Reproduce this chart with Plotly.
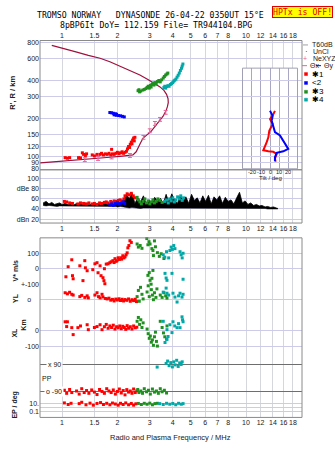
import plotly.graph_objects as go

W, H = 335, 451
SANS = "Liberation Sans, Arial, sans-serif"
MONO = "DejaVu Sans Mono, monospace"

# ---------------------------------------------------------------- data
FREQ_TICKS = [1, 1.5, 2, 3, 4, 5, 6, 7, 8, 10, 12, 14, 16, 18]
FREQ_LABELS = ["1", "1.5", "2", "3", "4", "5", "6", "7", "8", "10", "12", "14", "16", "18"]
HEIGHT_TICKS = [80, 90, 100, 120, 150, 200, 300, 400, 600, 800]
DB_TICKS = [20, 40, 60, 80, 100]
DB_LABELS = ["dBn 20", "40", "60", "dBe 80", "100"]
TILT_TICKS = [-20, -10, 0, 10, 20]

# electron density profile (plasma frequency, true height)
PROFILE_F = [0.88, 1.03, 1.19, 1.39, 1.61, 1.82, 2.07, 2.34, 2.65, 2.93,
             3.20, 3.41, 3.58, 3.70, 3.77, 3.78, 3.74, 3.68, 3.56, 3.41,
             3.22, 3.05, 2.86, 2.76, 2.67, 2.61, 2.53, 2.43, 2.28, 2.07,
             1.82, 1.61, 1.42, 1.25, 1.11, 0.98, 0.86, 0.76]
PROFILE_H = [758, 718, 674, 633, 600, 563, 519, 479, 442, 407,
             379, 356, 334, 311, 287, 267, 248, 231, 211, 193,
             175, 158, 147, 140, 128, 118, 109, 103, 101.4, 100.2,
             98.7, 97.5, 95.7, 94.4, 93.2, 91.9, 90.4, 89.1]

# NeXYZ inversion points
NE_F = [1.33, 1.57, 1.86, 2.34, 2.77, 3.00, 3.20, 3.41, 3.66]
NE_H = [94.5, 96.6, 99.3, 102, 142, 160, 183, 197, 224]

# echo traces: range vs frequency
ECHO1_RH = [(1.04, 98), (1.07, 97), (1.10, 98), (1.23, 98), (1.26, 97.5),
            (1.29, 107), (1.31, 104), (1.34, 102), (1.36, 105), (1.46, 103),
            (1.50, 101), (1.55, 104), (1.61, 104), (1.64, 106), (1.68, 103),
            (1.72, 105), (1.76, 104), (1.80, 106), (1.84, 103), (1.88, 105),
            (1.92, 104), (1.86, 114), (1.96, 106), (2.00, 108), (2.04, 105),
            (2.08, 107), (2.12, 109), (2.16, 106), (2.20, 108), (2.24, 110),
            (2.27, 115), (2.30, 120), (2.33, 118), (2.35, 125), (2.38, 130),
            (2.40, 126), (2.42, 135), (2.45, 140), (2.47, 133), (2.49, 142)]
ECHO2_RH = [(1.82, 223), (1.86, 222), (1.90, 220), (1.95, 218), (1.98, 216),
            (1.92, 214), (1.97, 212), (2.03, 211), (2.08, 210), (2.13, 208),
            (2.18, 206)]
ECHO3_RH = [(2.59, 332), (2.62, 338), (2.64, 325), (2.68, 330), (2.75, 336),
            (2.80, 340), (2.86, 345), (2.90, 352), (2.94, 360), (2.98, 348),
            (3.02, 365), (3.05, 355), (3.08, 372), (3.12, 380), (3.16, 368),
            (3.20, 385), (3.25, 375), (3.30, 392), (3.36, 400), (3.42, 390),
            (3.48, 405), (3.55, 418), (3.60, 430), (3.66, 442), (3.72, 450),
            (3.76, 458)]
ECHO4_RH = [(3.58, 352), (3.62, 360), (3.66, 348), (3.70, 358), (3.76, 364),
            (3.82, 360), (3.88, 372), (3.94, 378), (4.00, 385), (4.05, 395),
            (4.10, 402), (4.16, 410), (4.22, 425), (4.28, 440), (4.34, 458),
            (4.40, 480), (4.46, 500), (4.50, 520), (4.54, 540)]
TRACE_TAGS = [("\u27311", 2.06, 99), ("<2", 2.17, 203), ("\u27313", 3.28, 346), ("\u27314", 4.30, 366)]

# tilt of the reflection points
TILT_X_H = [230, 216, 198, 181, 160, 142, 130, 115, 112, 110, 109, 105, 96, 91]
TILT_X = [5.4, 3.6, 0.0, 2.9, -0.8, -1.8, -3.6, -6.5, -7.3, -1.8, 3.6, 7.3, 5.4, 6.2]
TILT_Y_H = [230, 210, 192, 170, 156, 147, 126, 115, 110, 107, 99, 92]
TILT_Y = [0.0, 2.9, 1.8, 3.6, 5.4, 10.9, 16.3, 19.9, 14.5, 7.3, 5.4, 5.4]

# receiver noise / amplitude envelope
NOISE_F = [0.79, 0.82, 0.85, 0.88, 0.91, 0.94, 0.97, 1.00, 1.04, 1.08,
           1.12, 1.16, 1.20, 1.25, 1.30, 1.35, 1.40, 1.45, 1.50, 1.56,
           1.62, 1.68, 1.74, 1.80, 1.87, 1.94, 2.01, 2.08, 2.16, 2.24,
           2.32, 2.40, 2.49, 2.58, 2.67, 2.77, 2.87, 2.97, 3.08, 3.19,
           3.31, 3.43, 3.55, 3.68, 3.81, 3.95, 4.09, 4.24, 4.39, 4.55,
           4.71, 4.88, 5.06, 5.24, 5.43, 5.62, 5.82, 6.03, 6.25, 6.47,
           6.70, 6.94, 7.19, 7.45, 7.72, 8.00, 8.29, 8.59, 8.90, 9.22,
           9.55, 9.89, 10.25, 10.6, 11.0, 11.4, 11.8, 12.2, 12.7, 13.1,
           13.6, 14.1, 14.6, 14.9]
NOISE_HI = [52, 55, 50, 53, 49, 50, 52, 49, 51, 49,
            50, 48, 51, 49, 49, 52, 48, 50, 49, 51,
            48, 52, 50, 49, 53, 51, 55, 52, 57, 69,
            60, 72, 51, 62, 54, 66, 50, 58, 52, 63,
            55, 61, 50, 69, 53, 70, 58, 51, 66, 56,
            64, 51, 69, 57, 62, 52, 66, 55, 67, 50,
            64, 58, 66, 51, 63, 55, 58, 50, 62, 73,
            52, 56, 49, 52, 47, 49, 46, 47, 44, 45,
            43, 44, 42, 41]
NOISE_LO = [47, 46, 47, 46, 46, 45, 46, 46, 45, 46,
            46, 45, 46, 46, 45, 46, 45, 46, 45, 46,
            45, 46, 45, 45, 46, 45, 44, 45, 44, 43,
            42, 43, 42, 42, 41, 42, 42, 41, 42, 42,
            41, 42, 42, 41, 42, 41, 42, 42, 41, 42,
            42, 41, 42, 42, 41, 42, 41, 42, 42, 41,
            42, 42, 41, 42, 42, 41, 42, 42, 41, 42,
            42, 41, 42, 41, 42, 41, 41, 41, 41, 40,
            40, 40, 40, 40]

# echo amplitudes (dB)
ECHO1_DB = [(1.03, 55), (1.06, 54), (1.10, 52), (1.14, 51), (1.22, 50), (1.26, 52),
            (1.31, 51), (1.36, 50), (1.40, 52), (1.46, 50), (1.50, 51), (1.55, 49),
            (1.60, 52), (1.64, 51), (1.70, 53), (1.74, 54), (1.78, 52), (1.84, 55),
            (1.88, 53), (1.92, 56), (1.97, 55), (2.02, 57), (2.07, 58), (2.12, 56),
            (2.17, 60), (2.20, 66), (2.26, 70), (2.32, 68), (2.38, 71), (2.44, 66),
            (2.50, 62)]
ECHO2_DB = [(1.82, 48), (1.86, 50), (1.90, 47), (1.95, 51), (2.00, 53), (2.05, 50),
            (2.10, 52), (2.15, 54), (2.19, 51)]
ECHO3_DB = [(2.56, 63), (2.60, 58), (2.65, 54), (2.70, 50), (2.76, 55), (2.82, 60),
            (2.88, 52), (2.94, 56), (3.00, 50), (3.06, 54), (3.12, 58), (3.18, 52),
            (3.25, 55), (3.32, 60), (3.40, 57), (3.50, 53)]
ECHO4_DB = [(3.62, 55), (3.70, 58), (3.78, 52), (3.85, 60), (3.92, 56), (4.00, 62),
            (4.08, 54), (4.16, 58), (4.25, 64), (4.34, 60), (4.42, 66), (4.50, 57),
            (4.58, 62)]

# Doppler velocity V* (m/s)
ECHO1_V = [(1.05, -52), (1.08, 13), (1.13, 58), (1.14, -45), (1.15, -65), (1.25, 19),
           (1.30, -77), (1.33, 52), (1.34, 6), (1.37, -13), (1.47, -6), (1.51, 32),
           (1.55, 39), (1.57, -26), (1.61, 19), (1.63, -45), (1.67, -58), (1.69, -77),
           (1.71, -97), (1.70, 0), (1.74, 30), (1.78, 32), (1.82, 39), (1.85, 45),
           (1.89, 52), (1.92, 40), (1.94, 65), (1.97, 48), (1.99, 52), (2.02, 71),
           (2.05, 60), (2.09, 71), (2.11, 62), (2.14, 84), (2.17, 70), (2.20, 77),
           (2.23, 90), (2.26, 103), (2.28, 135), (2.31, 150), (2.34, 181), (2.38, 170),
           (2.40, 200)]
ECHO3_V = [(2.56, 160), (2.60, 140), (2.66, 150), (2.72, 132), (2.89, 195), (2.93, 155),
           (2.97, 175), (3.01, 160), (3.05, 200), (3.08, 130), (3.12, 118), (3.14, 85),
           (3.18, 180), (3.22, 142), (3.30, 104), (3.38, 80), (3.46, 97), (3.58, 66),
           (2.93, -43), (3.01, -75), (3.05, -100), (3.12, -11), (3.08, -62), (2.98, -25)]
ECHO4_V = [(3.55, 90), (3.62, 75), (3.70, 110), (3.80, 70), (3.86, 118), (3.92, 140),
           (3.98, 125), (4.05, 150), (4.11, 130), (4.38, 110), (4.44, 90), (4.50, 70),
           (4.55, 100), (3.63, -30), (3.68, -60), (3.72, -75), (3.96, -30), (4.55, -68)]

# YL displacement (km)
ECHO1_YL = [(1.04, 45), (1.07, 38), (1.10, 48), (1.13, 35), (1.15, 30), (1.25, 20),
            (1.28, 28), (1.33, 15), (1.37, 25), (1.39, 12), (1.51, 30), (1.55, 45),
            (1.58, 20), (1.61, 12), (1.65, 35), (1.67, 18), (1.72, 8), (1.76, 5),
            (1.80, 10), (1.84, -3), (1.88, 2), (1.92, -8), (1.96, 4), (2.00, -2),
            (2.04, 6), (2.08, -5), (2.12, 3), (2.16, -8), (2.20, 1), (2.25, -4),
            (2.30, 5), (2.35, -10), (2.40, 0), (2.45, -6), (2.50, 3), (2.54, -12)]
ECHO3_YL = [(2.56, 20), (2.60, 60), (2.63, -10), (2.67, 80), (2.72, 35), (2.76, 5),
            (2.90, 50), (2.94, 90), (2.98, 20), (3.02, 110), (3.06, 65), (3.10, 30),
            (3.14, 0), (3.18, 45), (3.24, 15), (3.28, 70), (3.42, 30), (3.50, 15),
            (3.58, 45), (3.66, 25), (3.72, 10)]
ECHO4_YL = [(3.55, 49), (3.68, 75), (3.72, 42), (3.80, 30), (4.01, 42), (4.11, 17),
            (4.22, -15), (4.30, 25), (4.38, 42), (4.49, 17), (4.55, 35)]

# XL displacement (km)
ECHO1_XL = [(1.04, 57), (1.07, 57), (1.06, 26), (1.13, 19), (1.15, -26), (1.22, 19),
            (1.26, 30), (1.37, 38), (1.39, 6), (1.50, 20), (1.55, 26), (1.61, 38),
            (1.65, 6), (1.70, 25), (1.74, 40), (1.78, 15), (1.82, 30), (1.86, 20),
            (1.90, 35), (1.94, 10), (1.98, 25), (2.02, 18), (2.06, 30), (2.10, 12),
            (2.14, 28), (2.18, 20), (2.22, 8), (2.26, 32), (2.30, 15), (2.35, 25),
            (2.40, 10), (2.45, 30), (2.50, 18), (2.55, 22)]
ECHO3_XL = [(2.56, 60), (2.60, 85), (2.64, 40), (2.68, 70), (2.72, 20), (2.76, 50),
            (2.90, 10), (2.94, -20), (2.98, -50), (3.02, -35), (3.06, -75), (3.10, -60),
            (3.14, -95), (3.18, -40), (3.22, -10), (3.26, -70), (3.30, -100), (3.42, 60),
            (3.50, 20), (3.56, -15), (3.62, -40), (3.70, -55), (3.72, 30)]
ECHO4_XL = [(3.55, 60), (3.63, -77), (3.72, -57), (3.72, 6), (3.77, -38), (3.86, 38),
            (3.96, -13), (4.01, 57), (4.10, 30), (4.22, 19), (4.30, 45), (4.38, 19),
            (4.49, 89), (4.55, 57), (4.52, 70)]

# polarisation PP (deg)
ECHO1_PP = [(1.03, -80), (1.06, -100), (1.10, -75), (1.13, -95), (1.20, -85), (1.24, -105),
            (1.28, -70), (1.32, -95), (1.36, -82), (1.40, -100), (1.45, -78), (1.50, -92),
            (1.55, -108), (1.60, -75), (1.65, -88), (1.70, -100), (1.75, -70), (1.80, -85),
            (1.85, -95), (1.90, -78), (1.95, -105), (2.00, -88), (2.05, -72), (2.10, -98),
            (2.15, -82), (2.20, -110), (2.25, -76), (2.30, -92), (2.35, -85), (2.40, -100),
            (2.45, -72), (2.50, -95), (2.55, -84)]
ECHO3_PP = [(2.58, -75), (2.62, -95), (2.68, -85), (2.74, -100), (2.80, -70), (2.88, -90),
            (2.95, -80), (3.02, -105), (3.10, -72), (3.18, -92), (3.26, -85), (3.34, -100),
            (3.42, -70), (3.50, -90), (3.60, -80), (3.70, -98)]
ECHO4_PP = [(3.29, 71), (3.68, 95), (3.75, 110), (3.82, 80), (3.90, 100), (3.98, 72),
            (4.05, 105), (4.12, 85), (4.20, 115), (4.28, 75), (4.36, 98), (4.44, 88),
            (4.50, 105)]

# error parameter EP (deg)
ECHO1_EP = [(1.03, 15), (1.08, 6), (1.12, 12), (1.24, 10), (1.28, 22), (1.35, 5),
            (1.42, 13), (1.48, 4), (1.55, 11), (1.62, 18), (1.68, 6), (1.75, 12),
            (1.82, 5), (1.88, 14), (1.95, 8), (2.02, 4), (2.08, 12), (2.15, 6),
            (2.22, 15), (2.30, 5), (2.38, 11), (2.45, 4), (2.52, 9)]
ECHO3_EP = [(2.60, 11), (2.70, 6), (2.80, 12), (2.90, 7), (3.00, 13), (3.10, 5),
            (3.20, 10), (3.30, 12)]
ECHO4_EP = [(3.40, 10), (3.55, 6), (3.70, 12), (3.85, 7), (4.00, 11), (4.15, 5),
            (4.30, 12), (4.45, 7), (4.55, 10)]

# ---------------------------------------------------------------- styling
RED, BLUE, GREEN, CYAN = "#ff0000", "#0000ff", "#1f8f1f", "#00a8a8"
PROFILE_COLOR, NE_COLOR = "#a0103c", "#e8609a"
VGRID, HGRID = "#d6d6de", "#ccccea"
FRAME = "#8a8a8a"
TICKFONT = dict(family=SANS, size=7, color="#202020")


def px(x):
    return x / W


def py(y):
    return 1 - y / H


XDOM = [px(40), px(302)]
XRANGE = [-22 / 184, 240 / 184]

fig = go.Figure()


def unzip(pairs):
    return [p[0] for p in pairs], [p[1] for p in pairs]


def dots(pairs, color, xa, ya, size=3):
    xs, ys = unzip(pairs)
    fig.add_trace(go.Scatter(x=xs, y=ys, mode="markers", xaxis=xa, yaxis=ya,
                             marker=dict(symbol="square", size=size, color=color,
                                         line=dict(width=0)),
                             cliponaxis=False, hoverinfo="skip", showlegend=False))


# --- top panel: virtual range and true-height profile
fig.add_trace(go.Scatter(x=PROFILE_F, y=PROFILE_H, mode="lines", xaxis="x", yaxis="y",
                         line=dict(color=PROFILE_COLOR, width=1.2), hoverinfo="skip"))
fig.add_trace(go.Scatter(x=NE_F, y=NE_H, mode="markers", xaxis="x", yaxis="y",
                         marker=dict(size=1, color=NE_COLOR),
                         error_y=dict(type="percent", value=3.5, width=2, thickness=1,
                                      color=NE_COLOR), hoverinfo="skip"))
for pairs, color in [(ECHO1_RH, RED), (ECHO2_RH, BLUE), (ECHO3_RH, GREEN), (ECHO4_RH, CYAN)]:
    dots(pairs, color, "x", "y")

# --- tilt inset
fig.add_trace(go.Scatter(x=TILT_X, y=TILT_X_H, mode="lines", xaxis="x9", yaxis="y9",
                         line=dict(color=RED, width=2), hoverinfo="skip"))
fig.add_trace(go.Scatter(x=TILT_Y, y=TILT_Y_H, mode="lines", xaxis="x9", yaxis="y9",
                         line=dict(color=BLUE, width=2), hoverinfo="skip"))

# --- amplitude panel
fig.add_trace(go.Scatter(x=NOISE_F, y=NOISE_LO, mode="lines", xaxis="x2", yaxis="y2",
                         line=dict(color="black", width=0.5), hoverinfo="skip"))
fig.add_trace(go.Scatter(x=NOISE_F, y=NOISE_HI, mode="lines", xaxis="x2", yaxis="y2",
                         fill="tonexty", fillcolor="black",
                         line=dict(color="black", width=0.8), hoverinfo="skip"))
for pairs, color in [(ECHO1_DB, RED), (ECHO2_DB, BLUE), (ECHO3_DB, GREEN), (ECHO4_DB, CYAN)]:
    dots(pairs, color, "x2", "y2")

# --- velocity / position / polarisation panel
for pairs, color in [(ECHO1_V, RED), (ECHO3_V, GREEN), (ECHO4_V, CYAN)]:
    dots(pairs, color, "x3", "y4")
for pairs, color in [(ECHO1_YL, RED), (ECHO3_YL, GREEN), (ECHO4_YL, CYAN)]:
    dots(pairs, color, "x3", "y5")
for pairs, color in [(ECHO1_XL, RED), (ECHO3_XL, GREEN), (ECHO4_XL, CYAN)]:
    dots(pairs, color, "x3", "y6")
for pairs, color in [(ECHO1_PP, RED), (ECHO3_PP, GREEN), (ECHO4_PP, CYAN)]:
    dots(pairs, color, "x3", "y7")
for pairs, color in [(ECHO1_EP, RED), (ECHO3_EP, GREEN), (ECHO4_EP, CYAN)]:
    dots(pairs, color, "x3", "y8")

# ---------------------------------------------------------------- axes
xcommon = dict(type="log", range=XRANGE, domain=XDOM, tickvals=FREQ_TICKS,
               ticktext=FREQ_LABELS, tickangle=0, showgrid=True, gridcolor=VGRID,
               gridwidth=1, zeroline=False, showline=False, ticks="", tickfont=TICKFONT)


def yaxis(top, bottom, rng, **kw):
    d = dict(domain=[py(bottom), py(top)], range=rng, showgrid=True, gridcolor=HGRID,
             zeroline=False, showline=False, ticks="", tickfont=TICKFONT, anchor="x3")
    d.update(kw)
    return d


V0, YL0, XL0, STEP = 268.3, 299.7, 331.0, 0.1567

fig.update_layout(
    width=W, height=H, margin=dict(l=0, r=0, t=0, b=0), autosize=False,
    paper_bgcolor="white", plot_bgcolor="white", showlegend=False,
    font=dict(family=SANS, size=7, color="#202020"),
    xaxis=dict(xcommon, anchor="y", side="top"),
    yaxis=dict(type="log", domain=[py(168), py(37)],
               range=[2.903 - 129 / 128, 2.903 + 2 / 128], tickvals=HEIGHT_TICKS,
               showgrid=True, gridcolor=HGRID, zeroline=False, showline=False,
               ticks="", tickfont=TICKFONT, anchor="x"),
    xaxis2=dict(xcommon, anchor="y2", side="bottom"),
    yaxis2=dict(domain=[py(222), py(168)], range=[20 - 4 / 0.5125, 100 + 9 / 0.5125],
                tickvals=DB_TICKS, ticktext=DB_LABELS, showgrid=True, gridcolor=HGRID,
                zeroline=False, showline=False, ticks="", tickfont=TICKFONT, anchor="x2"),
    xaxis3=dict(xcommon, anchor="y8", side="bottom"),
    yaxis4=yaxis(237, 284, [(V0 - 284) / STEP, (V0 - 237) / STEP],
                 tickvals=[100, 0], ticktext=["100", "0"]),
    yaxis5=yaxis(284, 315.3, [(YL0 - 315.3) / STEP, (YL0 - 284) / STEP],
                 tickvals=[100, 0, -100],
                 ticktext=["+-100", "o\u00a0\u00a0\u00a0\u00a0", "+-100"]),
    yaxis6=yaxis(315.3, 358, [(XL0 - 358) / STEP, (XL0 - 315.3) / STEP],
                 tickvals=[0, -100], ticktext=["0", "-100"]),
    yaxis7=yaxis(358, 399, [-(399 - 379) / 0.1556, (379 - 358) / 0.1556],
                 tickvals=[90, -90], showticklabels=False, gridcolor="#6e6e6e"),
    yaxis8=yaxis(399, 419, [-2.5, 2.5], type="log", tickvals=[10, 1, 0.1],
                 ticktext=["10.", "", "0.1"]),
    xaxis9=dict(domain=[px(242.5), px(297.5)], range=[-30, 30], tickvals=TILT_TICKS,
                showticklabels=False, showgrid=True, gridcolor="#a8a8c4", zeroline=False,
                showline=False, ticks="", anchor="y9"),
    yaxis9=dict(type="log", domain=[py(167), py(65)],
                range=[2.903 - 128 / 128, 2.903 - 26 / 128], tickvals=HEIGHT_TICKS,
                showticklabels=False, showgrid=True, gridcolor=HGRID, zeroline=False,
                showline=False, ticks="", anchor="x9"),
)

# ---------------------------------------------------------------- frames & glyphs
shapes = []


def rect(x0, y0, x1, y1, line=FRAME, fill="rgba(0,0,0,0)", width=1):
    shapes.append(dict(type="rect", xref="paper", yref="paper", x0=px(x0), x1=px(x1),
                       y0=py(y0), y1=py(y1), line=dict(color=line, width=width),
                       fillcolor=fill, layer="above"))


def hline(x0, x1, y, color, width=1):
    shapes.append(dict(type="line", xref="paper", yref="paper", x0=px(x0), x1=px(x1),
                       y0=py(y), y1=py(y), line=dict(color=color, width=width),
                       layer="above"))


rect(40, 37, 302, 168)
rect(40, 168, 302, 222)
rect(40, 237, 302, 419)
rect(242.5, 65, 297.5, 167, line="#a0a0b4")

# legend glyphs
hline(303, 308, 41.5, "#a0a0a0")
hline(302, 307, 62.5, NE_COLOR)
hline(316, 321, 62.5, BLUE)
for yy, col in [(71, RED), (80, BLUE), (89, GREEN), (97, CYAN)]:
    rect(304.5, yy - 1.5, 307.5, yy + 1.5, line=col, fill=col, width=0.5)

fig.update_layout(shapes=shapes)

# ---------------------------------------------------------------- text
notes = []


def note(x, y, text, size=7, color="#202020", family=SANS, anchor="center", **kw):
    notes.append(dict(x=px(x), y=py(y), xref="paper", yref="paper", text=text,
                      showarrow=False, xanchor=anchor, yanchor="middle",
                      font=dict(size=size, color=color, family=family), **kw))


note(150, 11.5, "TROMSO NORWAY\u00a0\u00a0\u00a0DYNASONDE 26-04-22 0350UT 15\u00b0E",
     size=8.2, color="black", family=MONO)
note(155.5, 21, "8pBP6It DoY= 112.159 File= TR944104.BPG", size=8.2, color="black",
     family=MONO)
note(302.5, 8, "HPTx is OFF!", size=8.2, color="#e00000", family=MONO,
     bgcolor="#ffff00", bordercolor="#e00000", borderwidth=1, borderpad=0)

note(13, 90, "<b>R', R / km</b>", size=7.5, textangle=-90)
note(15, 270, "<b>V* m/s</b>", size=7, textangle=-90)
note(15, 298, "<b>YL</b>", size=7, textangle=-90)
note(24, 326, "<b>Km</b>", size=7, textangle=-90)
note(15, 333, "<b>XL</b>", size=7, textangle=-90)
note(15, 406, "<b>EP / deg</b>", size=7, textangle=-90)
note(170, 439, "Radio and Plasma Frequency / MHz", size=7.5)

note(54.5, 365, "x 90", bgcolor="white")
note(46.5, 380, "PP", anchor="center")
note(54.5, 393, "o -90", bgcolor="white")

note(310, 41.5, "T60dB", anchor="left")
note(306, 48.5, "\u00b7", anchor="center", size=8, color="black")
note(310.5, 48.5, "UnCl", anchor="left")
note(305, 55.5, "+", anchor="center", color=NE_COLOR, size=7)
note(310.5, 55.5, "NeXYZ", anchor="left")
note(308, 62.5, "\u0398x", anchor="left")
note(322, 62.5, "\u0398y", anchor="left")
for yy, tag in [(71, "\u27311"), (80, "<2"), (89, "\u27313"), (97, "\u27314")]:
    note(310, yy, tag, anchor="left", size=8, color="black")

# tilt axis labels
for t in TILT_TICKS:
    notes.append(dict(x=t, y=py(170.5), xref="x9", yref="paper", text=str(t),
                      showarrow=False, xanchor="center", yanchor="middle",
                      font=dict(size=5.5, family=SANS, color="#202020")))
note(270, 176, "Tilt / deg", size=6)

# trace identifiers beside their echoes
for tag, f, h in TRACE_TAGS:
    notes.append(dict(x=f, y=h, xref="x", yref="y", text=tag, showarrow=False,
                      xanchor="left", yanchor="middle",
                      font=dict(size=8, family=SANS, color="black")))

fig.update_layout(annotations=notes)

fig.write_html("out.html")
